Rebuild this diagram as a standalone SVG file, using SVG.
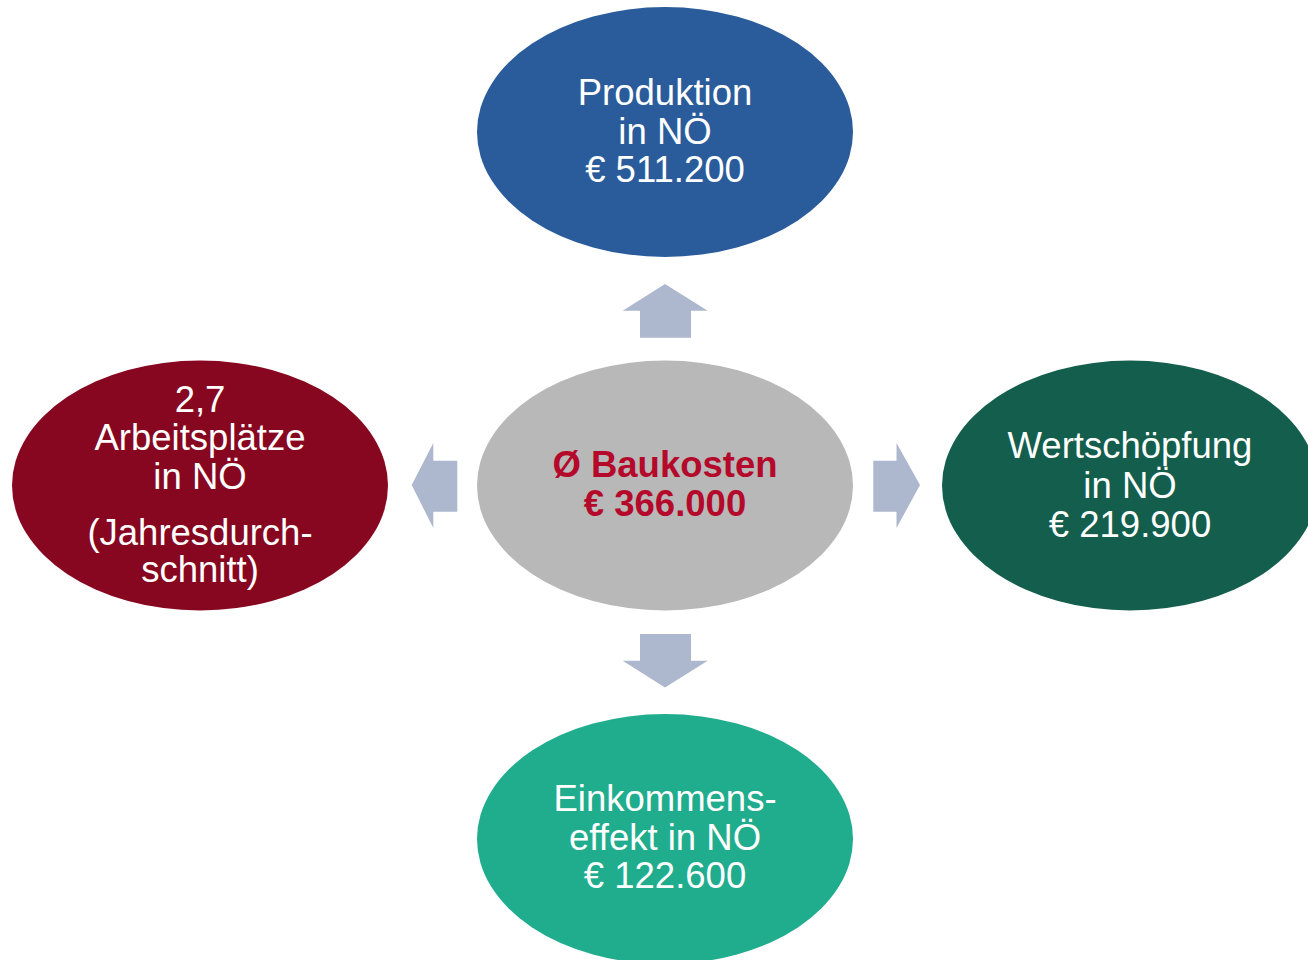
<svg xmlns="http://www.w3.org/2000/svg" width="1308" height="960" viewBox="0 0 1308 960">
<style>
.t{font-family:"Liberation Sans",Arial,sans-serif;font-size:36.5px;fill:#ffffff;text-anchor:middle}
.c{font-family:"Liberation Sans",Arial,sans-serif;font-size:36.5px;font-weight:bold;fill:#B5092B;text-anchor:middle}
.arr{fill:#ADB7CE}
</style>
<rect width="1308" height="960" fill="#ffffff"/>
<g id="connectors">
<polygon class="arr" points="640,337.7 640,310.7 622.7,310.7 665,284 707.7,310.7 691,310.7 691,337.7"/>
<polygon class="arr" points="640,634 640,660.7 622.7,660.7 665,687.5 707.7,660.7 691,660.7 691,634"/>
<polygon class="arr" points="457.3,460.7 433.3,460.7 433.3,443 411.7,485 433.3,528 433.3,511.7 457.3,511.7"/>
<polygon class="arr" points="873.3,460.7 896.5,460.7 896.5,443 920,485 896.5,528 896.5,511.7 873.3,511.7"/>
</g>
<g id="center">
<ellipse cx="665" cy="485.5" rx="188" ry="125" fill="#B8B8B8"/>
<text class="c" x="665" y="477">Ø Baukosten</text>
<text class="c" x="665" y="515.5">€ 366.000</text>
</g>
<g id="produktion">
<ellipse cx="665" cy="132" rx="188" ry="125" fill="#2A5C9B"/>
<text class="t" x="665" y="105">Produktion</text>
<text class="t" x="665" y="143.5">in NÖ</text>
<text class="t" x="665" y="182">€ 511.200</text>
</g>
<g id="wertschoepfung">
<ellipse cx="1130" cy="485.5" rx="188" ry="125" fill="#135E4C"/>
<text class="t" x="1130" y="458">Wertschöpfung</text>
<text class="t" x="1130" y="497.5">in NÖ</text>
<text class="t" x="1130" y="536.5">€ 219.900</text>
</g>
<g id="einkommen">
<ellipse cx="665" cy="839" rx="188" ry="125" fill="#20AD8E"/>
<text class="t" x="665" y="811">Einkommens-</text>
<text class="t" x="665" y="849.5">effekt in NÖ</text>
<text class="t" x="665" y="888">€ 122.600</text>
</g>
<g id="arbeitsplaetze">
<ellipse cx="200" cy="485.5" rx="188" ry="125" fill="#880720"/>
<text class="t" x="200" y="411.5">2,7</text>
<text class="t" x="200" y="450">Arbeitsplätze</text>
<text class="t" x="200" y="488.5">in NÖ</text>
<text class="t" x="200" y="545">(Jahresdurch-</text>
<text class="t" x="200" y="582">schnitt)</text>
</g>
</svg>
